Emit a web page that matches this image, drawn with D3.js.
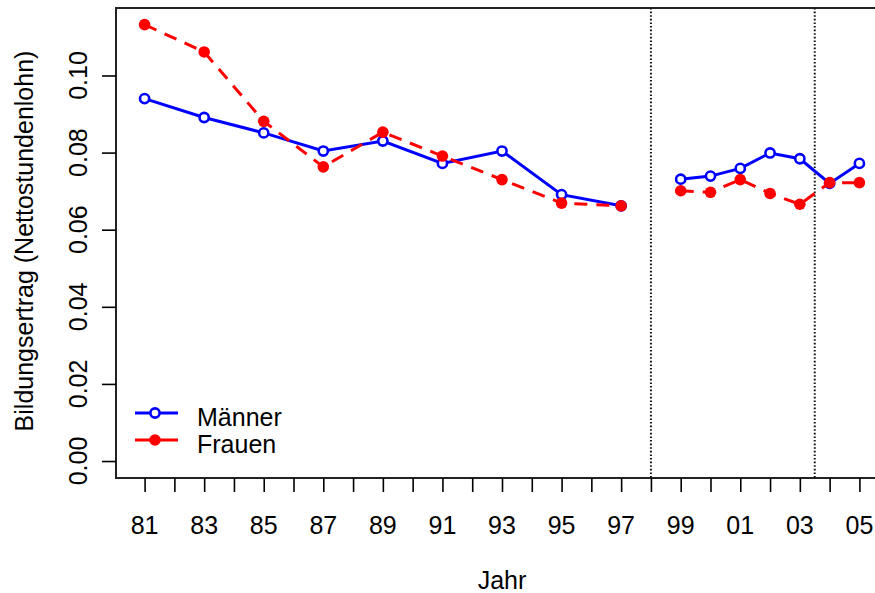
<!DOCTYPE html>
<html>
<head>
<meta charset="utf-8">
<script src="https://cdn.jsdelivr.net/npm/d3@7"></script>
<style>
  html, body { margin: 0; padding: 0; background: #fff; }
  svg { display: block; }
  text { font-family: "Liberation Sans", Arial, sans-serif; font-size: 25px; fill: #000; }
</style>
</head>
<body>
<svg id="chart" width="875" height="593"></svg>
<script>
// Survey years (1998 has no estimate, so it breaks the lines)
const years = [1981, 1983, 1985, 1987, 1989, 1991, 1993, 1995, 1997, 1998,
               1999, 2000, 2001, 2002, 2003, 2004, 2005];
// Return to education (net hourly wage)
const maenner = [0.0940, 0.0891, 0.0851, 0.0804, 0.0830, 0.0772, 0.0804, 0.0691, 0.0662, null,
                 0.0731, 0.0739, 0.0759, 0.0799, 0.0784, 0.0720, 0.0772];
const frauen  = [0.1132, 0.1061, 0.0881, 0.0763, 0.0853, 0.0791, 0.0730, 0.0669, 0.0662, null,
                 0.0701, 0.0697, 0.0730, 0.0694, 0.0666, 0.0722, 0.0722];
// Axis ticks
const xTickYears = d3.range(1981, 2006);
const xLabelYears = [1981, 1983, 1985, 1987, 1989, 1991, 1993, 1995, 1997, 1999, 2001, 2003, 2005];
const yTicks = [0.00, 0.02, 0.04, 0.06, 0.08, 0.10];
// Structural break markers
const breaks = [1998, 2003.5];

const svg = d3.select("#chart");
const plotLeft = 116, plotRight = 888, plotTop = 8, plotBottom = 478;

const x = d3.scaleLinear().domain([1980.04, 2005.96]).range([plotLeft, plotRight]);
const y = d3.scaleLinear().domain([-0.0044, 0.1175]).range([plotBottom, plotTop]);

// Plot frame
svg.append("rect")
  .attr("x", plotLeft).attr("y", plotTop)
  .attr("width", plotRight - plotLeft).attr("height", plotBottom - plotTop)
  .attr("fill", "none").attr("stroke", "#222").attr("stroke-width", 2);

// X axis: tick every year, label every other year as two digits
const xAxis = d3.axisBottom(x)
  .tickValues(xTickYears)
  .tickSize(14)
  .tickPadding(0)
  .tickFormat(() => "");
const gx = svg.append("g").attr("transform", `translate(0,${plotBottom})`).call(xAxis);
gx.select(".domain").remove();
gx.selectAll(".tick line").attr("stroke", "#000").attr("stroke-width", 1.6);

svg.append("g").selectAll("text")
  .data(xLabelYears)
  .join("text")
  .attr("x", d => x(d))
  .attr("y", 534)
  .attr("text-anchor", "middle")
  .text(d => String(d % 100).padStart(2, "0"));

// Y axis
const yAxis = d3.axisLeft(y)
  .tickValues(yTicks)
  .tickSize(14)
  .tickFormat(() => "");
const gy = svg.append("g").attr("transform", `translate(${plotLeft},0)`).call(yAxis);
gy.select(".domain").remove();
gy.selectAll(".tick line").attr("stroke", "#000").attr("stroke-width", 1.6);

svg.append("g").selectAll("text")
  .data(yTicks)
  .join("text")
  .attr("transform", d => `translate(87,${y(d)}) rotate(-90)`)
  .attr("text-anchor", "middle")
  .text(d3.format(".2f"));

// Axis titles
svg.append("text")
  .attr("x", (plotLeft + plotRight) / 2).attr("y", 589)
  .attr("text-anchor", "middle")
  .text("Jahr");
svg.append("text")
  .attr("transform", `translate(33,241) rotate(-90)`)
  .attr("text-anchor", "middle")
  .text("Bildungsertrag (Nettostundenlohn)");

// Vertical dotted break lines
svg.append("g").selectAll("line")
  .data(breaks)
  .join("line")
  .attr("x1", d => x(d)).attr("x2", d => x(d))
  .attr("y1", plotTop).attr("y2", plotBottom)
  .attr("stroke", "#111")
  .attr("stroke-width", 2)
  .attr("stroke-dasharray", "1.6,2");

const line = d3.line()
  .defined(d => d.v !== null)
  .x(d => x(d.year))
  .y(d => y(d.v));

const mData = years.map((yr, i) => ({ year: yr, v: maenner[i] }));
const fData = years.map((yr, i) => ({ year: yr, v: frauen[i] }));

// Männer: solid blue with open circles
svg.append("path")
  .datum(mData)
  .attr("d", line)
  .attr("fill", "none")
  .attr("stroke", "#0000ff")
  .attr("stroke-width", 3);
svg.append("g").selectAll("circle")
  .data(mData.filter(d => d.v !== null))
  .join("circle")
  .attr("cx", d => x(d.year)).attr("cy", d => y(d.v))
  .attr("r", 4.6)
  .attr("fill", "#fff")
  .attr("stroke", "#0000ff")
  .attr("stroke-width", 2.6);

// Frauen: dashed red with filled circles
svg.append("path")
  .datum(fData)
  .attr("d", line)
  .attr("fill", "none")
  .attr("stroke", "#ff0000")
  .attr("stroke-width", 3)
  .attr("stroke-dasharray", "13,9");
svg.append("g").selectAll("circle")
  .data(fData.filter(d => d.v !== null))
  .join("circle")
  .attr("cx", d => x(d.year)).attr("cy", d => y(d.v))
  .attr("r", 5.8)
  .attr("fill", "#ff0000");

// Legend
const legend = [
  { label: "Männer", color: "#0000ff", open: true, y: 413 },
  { label: "Frauen", color: "#ff0000", open: false, y: 440 }
];
const lg = svg.append("g");
legend.forEach(item => {
  lg.append("line")
    .attr("x1", 135).attr("x2", 178)
    .attr("y1", item.y).attr("y2", item.y)
    .attr("stroke", item.color).attr("stroke-width", 3);
  if (item.open) {
    lg.append("circle").attr("cx", 155).attr("cy", item.y).attr("r", 4.6)
      .attr("fill", "#fff").attr("stroke", item.color).attr("stroke-width", 2.6);
  } else {
    lg.append("circle").attr("cx", 155).attr("cy", item.y).attr("r", 5.8)
      .attr("fill", item.color);
  }
  lg.append("text")
    .attr("x", 197).attr("y", item.y + 13)
    .text(item.label);
});
</script>
</body>
</html>
